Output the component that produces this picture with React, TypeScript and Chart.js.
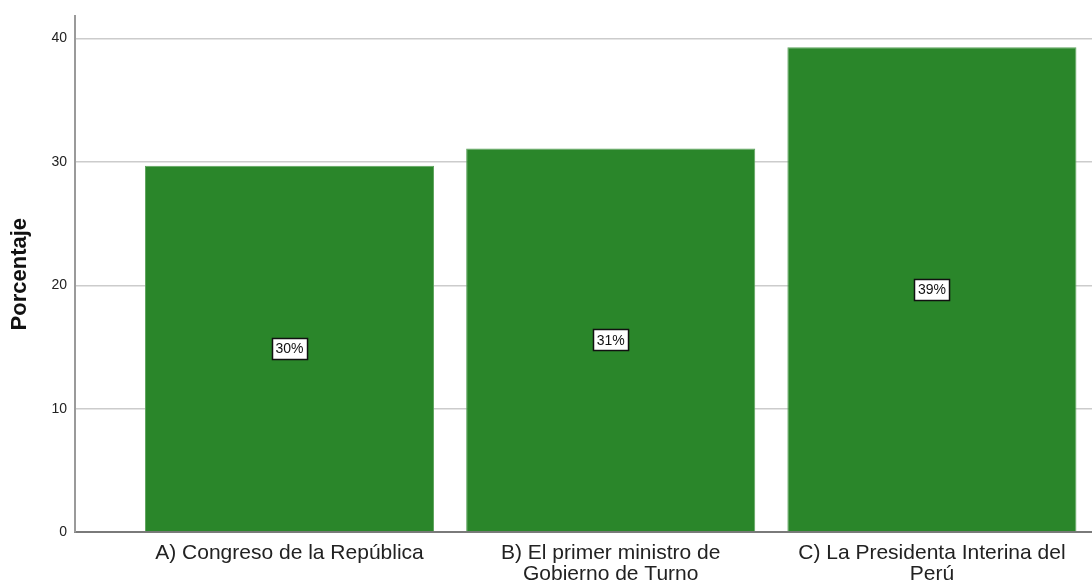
import React, { useEffect, useRef } from "react";
import { Chart, registerables } from "chart.js";

Chart.register(...registerables);

const categories: string[][] = [
  ["A) Congreso de la República"],
  ["B) El primer ministro de", "Gobierno de Turno"],
  ["C) La Presidenta Interina del", "Perú"],
];
const percentages: number[] = [29.7, 31.1, 39.3];
const yTicks: number[] = [0, 10, 20, 30, 40];
const yAxisTitle = "Porcentaje";

const barLabelPlugin = {
  id: "barLabelBoxes",
  afterDatasetsDraw(chart: any) {
    const ctx = chart.ctx;
    const meta = chart.getDatasetMeta(0);
    ctx.save();
    ctx.font = "14px 'Liberation Sans', Arial, sans-serif";
    ctx.textAlign = "center";
    ctx.textBaseline = "middle";
    meta.data.forEach((bar: any, i: number) => {
      const text = Math.round(percentages[i]) + "%";
      const mid = (bar.y + bar.base) / 2;
      const w = ctx.measureText(text).width + 7;
      const h = 21;
      const x0 = Math.round(bar.x - w / 2) + 0.5;
      const y0 = Math.round(mid - h / 2) + 0.5;
      ctx.fillStyle = "#ffffff";
      ctx.fillRect(x0, y0, w, h);
      ctx.strokeStyle = "#111111";
      ctx.lineWidth = 1.5;
      ctx.strokeRect(x0, y0, w, h);
      ctx.fillStyle = "#111111";
      ctx.fillText(text, bar.x, mid + 1);
    });
    ctx.restore();
  },
};

export default function App() {
  const ref = useRef<HTMLCanvasElement | null>(null);

  useEffect(() => {
    if (!ref.current) return;
    const chart = new Chart(ref.current, {
      type: "bar",
      data: {
        datasets: [
          {
            data: percentages.map((v, i) => ({ x: i, y: v })),
            backgroundColor: "#2a862a",
            borderColor: "#5da35c",
            borderWidth: 1,
            categoryPercentage: 1,
            barPercentage: 0.9,
          },
        ],
      },
      options: {
        animation: false,
        responsive: false,
        maintainAspectRatio: false,
        layout: { padding: { top: 14, left: 0, right: 0, bottom: 0 } },
        plugins: {
          legend: { display: false },
          tooltip: { enabled: false },
        },
        scales: {
          x: {
            type: "linear",
            offset: false,
            bounds: "ticks",
            min: -0.6678,
            max: 2.4984,
            grid: { display: false, drawTicks: false },
            border: { display: true, color: "#7a7a7a", width: 2 },
            afterBuildTicks: (scale: any) => {
              scale.ticks = categories.map((_, i) => ({ value: i }));
            },
            afterFit: (scale: any) => {
              scale.height = 51;
            },
            ticks: {
              autoSkip: false,
              maxRotation: 0,
              minRotation: 0,
              padding: 10,
              color: "#222222",
              font: { family: "'Liberation Sans', Arial, sans-serif", size: 21, lineHeight: 1.02 },
              callback: (v: any) => categories[Math.round(Number(v))] ?? "",
            },
          },
          y: {
            type: "linear",
            min: 0,
            max: 41.8,
            grid: { color: "#cccccc", lineWidth: 1.5, drawTicks: false },
            border: { display: true, color: "#9a9a9a", width: 2 },
            afterBuildTicks: (scale: any) => {
              scale.ticks = yTicks.map((v) => ({ value: v }));
            },
            afterFit: (scale: any) => {
              scale.width = 75;
            },
            ticks: {
              padding: 8,
              color: "#222222",
              font: { family: "'Liberation Sans', Arial, sans-serif", size: 14 },
            },
            title: {
              display: true,
              text: yAxisTitle,
              color: "#111111",
              padding: { top: 7, bottom: 0 },
              font: { family: "'Liberation Sans', Arial, sans-serif", size: 22, weight: "bold", lineHeight: 1.2 },
            },
          },
        },
      },
      plugins: [barLabelPlugin],
    } as any);
    return () => chart.destroy();
  }, []);

  return (
    <div style={{ position: "absolute", left: 0, top: 0, width: 1092, height: 583, background: "#ffffff" }}>
      <canvas ref={ref} width={1092} height={583} style={{ display: "block", width: 1092, height: 583 }} />
    </div>
  );
}
